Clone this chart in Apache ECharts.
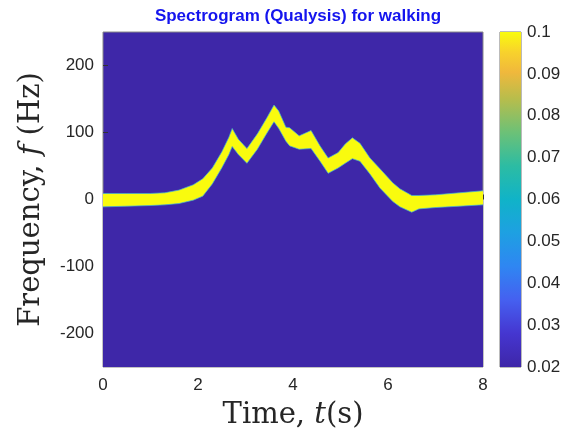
<!DOCTYPE html>
<html>
<head>
<meta charset="utf-8">
<script src="https://cdn.jsdelivr.net/npm/echarts@6/dist/echarts.min.js"></script>
<style>
html,body{margin:0;padding:0;background:#fff;}
#c{width:564px;height:440px;}
</style>
</head>
<body>
<div id="c"></div>
<script>
// Time (s) samples along the spectrogram ridge
const times = [0,0.5,1.0,1.3,1.6,1.9,2.1,2.3,2.5,2.65,2.72,2.85,3.03,3.25,3.45,3.6,3.7,3.85,3.93,4.13,4.38,4.57,4.74,4.95,5.1,5.25,5.41,5.62,5.83,6.1,6.25,6.5,6.65,7.0,7.5,8.0];
// Upper edge of the high-energy band (Hz)
const upperHz = [9,9,9,10,14,22,31,47,71,93,106,90,76,98,122,141,132,108,107,95,103,80,62,70,83,92,84,62,46,25,16,6,6,7,10,13];
// Lower edge of the high-energy band (Hz)
const lowerHz = [-11,-10,-9,-8,-6,-1,5,23,47,67,79,67,54,75,99,116,106,87,80,75,76,57,39,47,54,61,57,38,17,-3,-11,-19,-14,-12,-10,-8];
// Axis tick labels
const xTicks = [0,2,4,6,8];
const yTicks = [-200,-100,0,100,200];
const cbTicks = [0.02,0.03,0.04,0.05,0.06,0.07,0.08,0.09,0.1];
const cbRange = [0.02,0.1];

const BG = '#3e27a8';
const YEL = '#f9fb0e';
const parula = [
  [0.00,'#3e26a8'],[0.10,'#4536d0'],[0.20,'#4560f0'],[0.30,'#2f86f2'],
  [0.40,'#1ea0e2'],[0.50,'#10b3c8'],[0.60,'#2cbca3'],[0.70,'#6cc177'],
  [0.80,'#b7bd4c'],[0.88,'#f0b83c'],[0.94,'#f8d22c'],[1.00,'#f9fb0e']
];

const chart = echarts.init(document.getElementById('c'), null, {renderer:'canvas'});
const labelFont = 'Liberation Sans, Arial, sans-serif';
const serif = 'DejaVu Serif, serif';

const option = {
  backgroundColor:'#ffffff',
  animation:false,
  title:{
    text:'Spectrogram (Qualysis) for walking',
    left:293, top:3, textAlign:'center',
    textStyle:{color:'#1414ee', fontWeight:'bold', fontSize:17, fontFamily:labelFont}
  },
  grid:[
    {left:103, top:32, width:380, height:335, show:true, backgroundColor:BG, borderColor:'#888', borderWidth:1},
    {left:500, top:32, width:21, height:335, show:true, backgroundColor:'transparent', borderColor:'#777', borderWidth:1}
  ],
  xAxis:[
    {gridIndex:0, type:'value', min:0, max:8, interval:2,
     axisLine:{show:false}, splitLine:{show:false},
     axisTick:{inside:true, length:5, lineStyle:{color:'#333'}},
     axisLabel:{color:'#262626', fontSize:17, fontFamily:labelFont, margin:10},
     name:'Time, {i|t}(s)', nameLocation:'middle', nameGap:34,
     nameTextStyle:{color:'#262626', fontFamily:serif, fontSize:29,
       rich:{i:{fontStyle:'italic', fontFamily:serif, fontSize:29, color:'#262626'}}}},
    {gridIndex:1, type:'category', data:['c'], show:false}
  ],
  yAxis:[
    {gridIndex:0, type:'value', min:-250, max:250,
     axisLine:{show:false}, splitLine:{show:false},
     axisTick:{inside:true, length:5, customValues:yTicks, lineStyle:{color:'#333'}},
     axisLabel:{color:'#262626', fontSize:17, fontFamily:labelFont, margin:9, customValues:yTicks},
     name:'Frequency, {i|f} (Hz)', nameLocation:'middle', nameGap:57, nameRotate:90,
     nameTextStyle:{color:'#262626', fontFamily:serif, fontSize:29,
       rich:{i:{fontStyle:'italic', fontFamily:serif, fontSize:29, color:'#262626'}}}},
    {gridIndex:1, type:'value', position:'right', min:cbRange[0], max:cbRange[1],
     axisLine:{show:false}, splitLine:{show:false},
     axisTick:{inside:true, length:4, customValues:cbTicks, lineStyle:{color:'#333'}},
     axisLabel:{color:'#262626', fontSize:17, fontFamily:labelFont, margin:6, customValues:cbTicks,
       formatter:v=>String(parseFloat(v.toFixed(2)))}}
  ],
  series:[
    {type:'line', xAxisIndex:0, yAxisIndex:0, showSymbol:false, z:2,
     data:times.map((t,i)=>[t,upperHz[i]]),
     lineStyle:{color:'#3fb0d8', width:1, opacity:0.7},
     areaStyle:{color:YEL, opacity:1, origin:'start'}},
    {type:'line', xAxisIndex:0, yAxisIndex:0, showSymbol:false, z:3,
     data:times.map((t,i)=>[t,lowerHz[i]]),
     lineStyle:{color:'#3fb0d8', width:1, opacity:0.7},
     areaStyle:{color:BG, opacity:1, origin:'start'}},
    {type:'custom', xAxisIndex:1, yAxisIndex:1, data:[[0, cbRange[0], cbRange[1]]],
     renderItem:function(params, api){
       const top = api.coord([api.value(0), api.value(2)]);
       const bot = api.coord([api.value(0), api.value(1)]);
       const w = api.size([1,0])[0];
       return {type:'rect', shape:{x:top[0]-w/2, y:top[1], width:w, height:bot[1]-top[1]},
         style:{fill:new echarts.graphic.LinearGradient(0,1,0,0, parula.map(s=>({offset:s[0], color:s[1]})))}};
     }}
  ]
};
chart.setOption(option);
</script>
</body>
</html>
